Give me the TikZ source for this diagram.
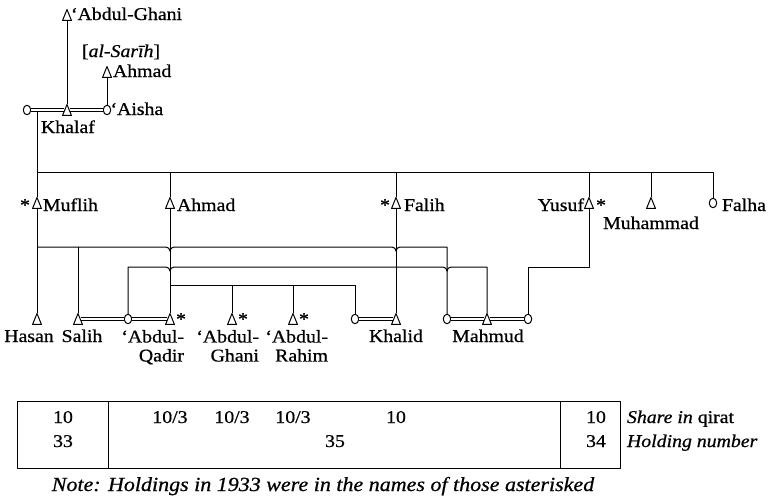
\documentclass[tikz,border=0pt]{standalone}
\usepackage{fontspec}
\setmainfont{Liberation Serif}[FakeStretch=1.1,FakeBold=0.7]
\usetikzlibrary{shapes.geometric}
\newcommand\hopR[2]{-- (#1-4,#2) .. controls (#1-2,#2) and (#1,#2+2) .. (#1,#2+4) .. controls (#1,#2+2) and (#1+2,#2) .. (#1+4,#2)}
\begin{document}
\begin{tikzpicture}[x=1pt,y=-1pt, line width=1pt, line join=round,
  every node/.style={inner sep=0pt, outer sep=0pt, font=\fontsize{18}{19}\selectfont},
  tri/.style={minimum width=10pt, minimum height=12pt,
    path picture={\draw[line width=1pt,line join=round]
      ([xshift=0.55pt,yshift=0.55pt]path picture bounding box.south west) --
      ([xshift=-0.55pt,yshift=0.55pt]path picture bounding box.south east) --
      ([yshift=-0.55pt]path picture bounding box.north) -- cycle;}},
  fem/.style={ellipse, draw, line width=1pt, minimum width=7.5pt, minimum height=9.5pt},
  dbl/.style={double, double distance=1.4pt, line width=0.9pt},
  nm/.style={anchor=base west},
  ctr/.style={anchor=base},
  two/.style={align=right, anchor=north east},
  tbl/.style={line width=0.8pt}]

\useasboundingbox (0,0) rectangle (769,501);

% ---------- generation 0
\node[tri] (agh) at (67,15) {};
\node[nm] (aghL) at (71,20) {‘Abdul-Ghani};
\node[nm] (sarih) at (82,57) {[\textit{al-Sarīh}]};
\node[tri] (ahm0) at (107,72) {};
\node[nm] (ahm0L) at (113,77) {Ahmad};
\node[fem] (w1) at (27,110) {};
\node[tri] (khalaf) at (67,110) {};
\node[fem] (aisha) at (107,110) {};
\node[nm] (aishaL) at (110.5,115) {‘Aisha};
\node[nm] (khalafL) at (41,133) {Khalaf};

\draw (agh.south) -- (khalaf.north);
\draw (ahm0.south) -- (aisha.north);
\draw[dbl, shorten >=-2.4pt] (w1.east) -- (khalaf.west);
\draw[dbl, shorten <=-2.4pt] (khalaf.east) -- (aisha.west);

\coordinate (kd) at (37,111.5);
\coordinate (b1w) at (37,172);
\coordinate (b1e) at (713,172);

% ---------- generation 1
\node[tri] (muflih) at (37,203) {};
\node[ctr] (muflihS) at (25,211) {*};
\node[nm] (muflihL) at (43,211) {Muflih};
\node[tri] (ahmad) at (170,203) {};
\node[nm] (ahmadL) at (177,211) {Ahmad};
\node[tri] (falih) at (396,203) {};
\node[ctr] (falihS) at (385,211) {*};
\node[nm] (falihL) at (404,211) {Falih};
\node[tri] (yusuf) at (589,203) {};
\node[anchor=base east] (yusufL) at (584,211) {Yusuf};
\node[ctr] (yusufS) at (601,211) {*};
\node[tri] (muhammad) at (651,203) {};
\node[ctr] (muhammadL) at (651,229) {Muhammad};
\node[fem] (falha) at (713,203) {};
\node[nm] (falhaL) at (722,211) {Falha};

\draw (kd) -- (b1w) -- (b1e) -- (falha.north);
\draw (b1w) -- (muflih.north);
\draw (ahmad.north) -- (ahmad.north |- b1w);
\draw (falih.north) -- (falih.north |- b1w);
\draw (yusuf.north) -- (yusuf.north |- b1w);
\draw (muhammad.north) -- (muhammad.north |- b1w);

% ---------- generation 2
\node[tri] (hasan) at (37,319) {};
\node[tri] (salih) at (78,319) {};
\node[fem] (w128) at (128,319) {};
\node[tri] (aq) at (170,319) {};
\node[ctr] (aqS) at (181,325) {*};
\node[tri] (ag) at (232,319) {};
\node[ctr] (agS) at (243,325) {*};
\node[tri] (ar) at (293,319) {};
\node[ctr] (arS) at (304,325) {*};
\node[fem] (w355) at (355,319) {};
\node[tri] (khalid) at (396,319) {};
\node[fem] (w447) at (447,319) {};
\node[tri] (mahmud) at (487,319) {};
\node[fem] (w528) at (528,319) {};

\node[ctr] (hasanL) at (29,342) {Hasan};
\node[ctr] (salihL) at (82,342) {Salih};
\node[two] (aqL) at (184,330) {‘Abdul-\\Qadir};
\node[two] (agL) at (259,330) {‘Abdul-\\Ghani};
\node[two] (arL) at (328,330) {‘Abdul-\\Rahim};
\node[ctr] (khalidL) at (396,342) {Khalid};
\node[ctr] (mahmudL) at (488,342) {Mahmud};

\coordinate (L1a) at (37,247);
\coordinate (L1b) at (447,247);
\coordinate (L2a) at (128,267);
\coordinate (L2b) at (487,267);
\coordinate (L3a) at (170,285);
\coordinate (L3b) at (355,285);
\coordinate (Y1) at (589,267);
\coordinate (Y2) at (528,267);

% Muflih's children
\draw (muflih.south) -- (hasan.north);
\draw (L1a) \hopR{170}{247} \hopR{396}{247} -- (L1b) -- (w447.north);
\draw (salih.north) -- (salih.north |- L1a);
% Falih's children
\draw (falih.south) -- (khalid.north);
\draw (w128.north) -- (L2a) \hopR{170}{267} -- (396,267) \hopR{447}{267} -- (L2b) -- (mahmud.north);
% Ahmad's children
\draw (ahmad.south) -- (aq.north);
\draw (L3a) -- (L3b) -- (w355.north);
\draw (ag.north) -- (ag.north |- L3a);
\draw (ar.north) -- (ar.north |- L3a);
% Yusuf's child
\draw (yusuf.south) -- (Y1) -- (Y2) -- (w528.north);

% marriages
\draw[dbl, shorten <=-2.4pt] (salih.east) -- (w128.west);
\draw[dbl, shorten >=-2.4pt] (w128.east) -- (aq.west);
\draw[dbl, shorten >=-2.4pt] (w355.east) -- (khalid.west);
\draw[dbl, shorten >=-2.4pt] (w447.east) -- (mahmud.west);
\draw[dbl, shorten <=-2.4pt] (mahmud.east) -- (w528.west);

% ---------- table
\draw[tbl] (17,401) rectangle (620,468);
\draw[tbl] (108,401) -- (108,468);
\draw[tbl] (560,401) -- (560,468);
\node[ctr] (t1) at (63,423) {10};
\node[ctr] (t2) at (63,447) {33};
\node[ctr] (t3) at (170,423) {10/3};
\node[ctr] (t4) at (232,423) {10/3};
\node[ctr] (t5) at (293,423) {10/3};
\node[ctr] (t6) at (396,423) {10};
\node[ctr] (t7) at (335,447) {35};
\node[ctr] (t8) at (596,423) {10};
\node[ctr] (t9) at (596,447) {34};
\node[nm] (share) at (627,423) {\textit{Share in} qirat};
\node[nm] (hold) at (627,447) {\textit{Holding number}};

\node[anchor=base, font=\fontsize{20}{22}\selectfont\itshape] (note) at (323,491)
  {Note: Holdings in 1933 were in the names of those asterisked};
\end{tikzpicture}
\end{document}
